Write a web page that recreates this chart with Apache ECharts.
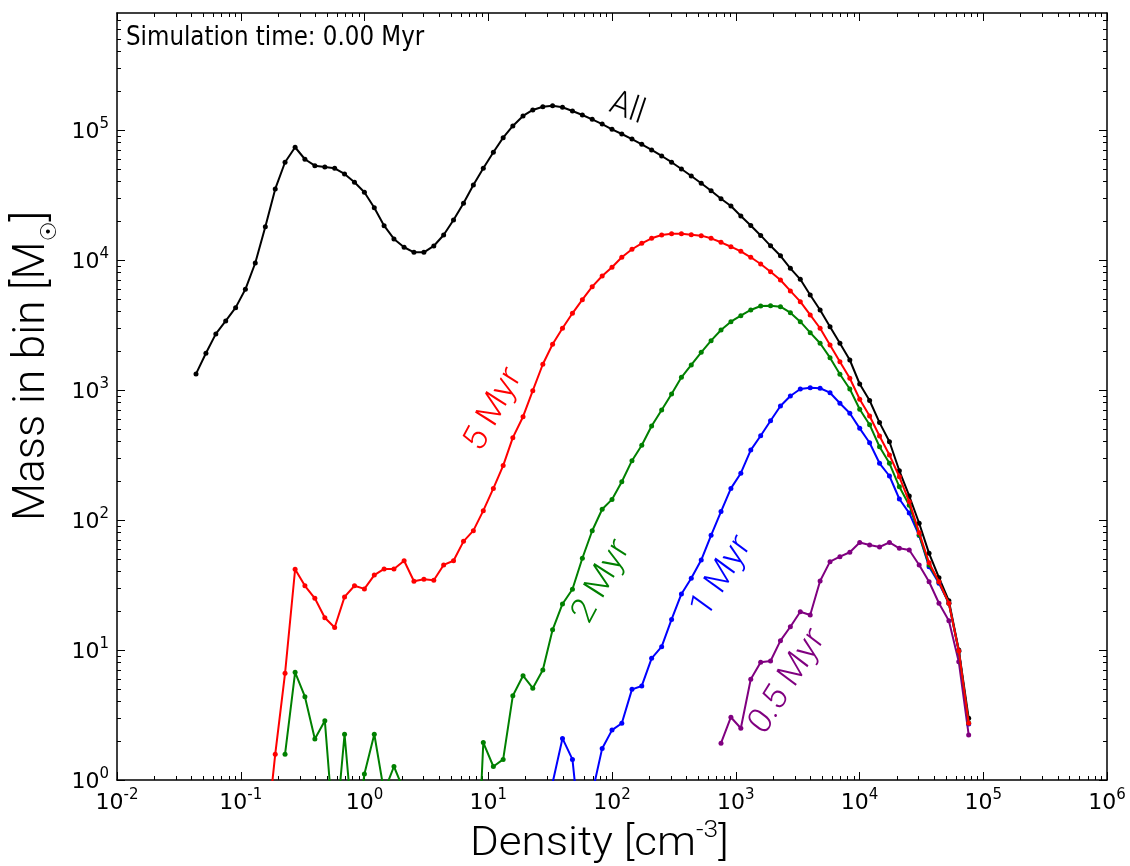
<!DOCTYPE html>
<html>
<head>
<meta charset="utf-8">
<script src="https://cdn.jsdelivr.net/npm/echarts@6/dist/echarts.min.js"></script>
<style>
  html, body { margin: 0; padding: 0; background: #fff; }
  #chart { width: 1130px; height: 866px; }
</style>
</head>
<body>
<div id="chart"></div>
<script>
// Density bin centres [cm^-3], shared by every curve
const density = [
  0.0435, 0.0523, 0.0629, 0.0756, 0.0909, 0.109, 0.131, 0.158, 0.190, 0.228,
  0.275, 0.330, 0.397, 0.478, 0.574, 0.690, 0.830, 0.998, 1.20, 1.44,
  1.73, 2.09, 2.51, 3.02, 3.63, 4.36, 5.24, 6.31, 7.58, 9.12,
  11.0, 13.2, 15.8, 19.1, 22.9, 27.6, 33.1, 39.8, 47.9, 57.6,
  69.2, 83.3, 100, 120, 145, 174, 209, 252, 303, 364,
  437, 526, 632, 760, 914, 1099, 1322, 1590, 1911, 2298,
  2763, 3323, 3996, 4804, 5777, 6946, 8351, 10040, 12070, 14520,
  17460, 20990, 25240, 30350, 36490, 43870, 52750, 63420, 76260
];

// Mass in each bin [Msun]; null = empty bin
const massAll = [
  1330, 1915, 2700, 3400, 4300, 5950, 9480, 18040, 35180, 56440,
  73640, 59550, 53140, 51910, 50700, 45880, 39630, 33180, 25260, 18360,
  14510, 12530, 11460, 11460, 12820, 15570, 20300, 27290, 37730, 50700,
  67400, 87300, 107400, 128200, 142600, 151100, 153800, 149500, 140000, 130400,
  120800, 111100, 101200, 93100, 85200, 77600, 70200, 63100, 56500, 50100,
  44300, 38900, 34100, 29600, 26000, 21800, 18400, 15450, 12850, 10770,
  8630, 7100, 5380, 4125, 3070, 2287, 1701, 1112, 830, 561,
  400, 239, 153, 94.4, 55.4, 36.0, 23.9, 10.0, 2.98
];

const mass5Myr = [
  null, null, null, null, null, null, null, 0.3, 1.58, 6.62,
  41.8, 31.2, 25.0, 17.7, 14.9, 25.6, 31.2, 29.5, 37.7, 42.0,
  42.0, 48.6, 33.8, 35.0, 34.4, 45.1, 48.6, 68.5, 82.8, 118,
  175, 262, 430, 623, 988, 1577, 2248, 2984, 3890, 4950,
  6237, 7530, 8790, 10490, 12090, 13440, 14680, 15570, 15930, 15930,
  15660, 15390, 14680, 13680, 12650, 11660, 10490, 9310, 8130, 7020,
  5780, 4780, 3776, 2984, 2219, 1651, 1230, 848, 631, 443,
  316, 215, 138, 79.9, 46.9, 33.5, 22.9, 9.83, 2.73
];

const mass2Myr = [
  null, null, null, null, null, null, null, null, null, 1.58,
  6.74, 4.37, 2.07, 2.86, 0.32, 2.25, 0.3, 1.11, 2.25, 0.81,
  1.27, 0.82, null, null, null, null, null, null, 0.04, 1.94,
  1.27, 1.44, 4.45, 6.34, 5.08, 7.02, 14.3, 22.6, 29.3, 50.8,
  82.7, 121, 144, 197, 286, 376, 529, 702, 931, 1252,
  1557, 1950, 2395, 2894, 3353, 3730, 4125, 4427, 4455, 4373,
  3935, 3353, 2760, 2287, 1772, 1321, 1018, 711, 541, 366,
  273, 180, 130, 76.7, 45.0, 33.4, 22.9, 9.8, 2.75
];

const mass1Myr = [
  null, null, null, null, null, null, null, null, null, null,
  null, null, null, null, null, null, null, null, null, null,
  null, null, null, null, null, null, null, null, null, null,
  null, null, null, null, null, null, 0.95, 2.09, 1.44, 0.27,
  0.79, 1.75, 2.42, 2.73, 4.98, 5.29, 8.63, 10.6, 17.2, 27.0,
  35.6, 49.2, 76.3, 116, 175, 229, 345, 445, 580, 753,
  899, 1018, 1042, 1031, 953, 790, 662, 507, 393, 273,
  218, 145, 113, 76.0, 43.7, 32.6, 22.9, 9.8, 2.7
];

const mass05Myr = [
  null, null, null, null, null, null, null, null, null, null,
  null, null, null, null, null, null, null, null, null, null,
  null, null, null, null, null, null, null, null, null, null,
  null, null, null, null, null, null, null, null, null, null,
  null, null, null, null, null, null, null, null, null, null,
  null, null, null, 1.92, 3.04, 2.50, 5.95, 8.04, 8.23, 11.8,
  15.1, 19.7, 18.6, 33.9, 47.8, 52.2, 56.5, 67.2, 64.2, 62.0,
  67.2, 60.6, 58.8, 45.1, 33.5, 22.9, 16.8, 8.13, 2.22
];

// Decade exponents that get a labelled tick
const xTickExponents = [-2, -1, 0, 1, 2, 3, 4, 5, 6];
const yTickExponents = [0, 1, 2, 3, 4, 5];

const X_MIN = 1e-2, X_MAX = 1e6;
const Y_MIN = 1, Y_MAX = 7.94e5;

const xMajor = xTickExponents.map(e => Math.pow(10, e));
const yMajor = yTickExponents.map(e => Math.pow(10, e));
function minorTicks(lo, hi) {
  const out = [];
  for (let e = Math.floor(Math.log10(lo)); e <= Math.ceil(Math.log10(hi)); e++) {
    for (let k = 2; k <= 9; k++) {
      const v = k * Math.pow(10, e);
      if (v > lo && v < hi) out.push(v);
    }
  }
  return out;
}
const xMinor = minorTicks(X_MIN, X_MAX);
const yMinor = minorTicks(Y_MIN, Y_MAX);

const tickFont = 'DejaVu Sans';
const labelRich = {
  b: { fontFamily: tickFont, fontSize: 22, color: '#000', lineHeight: 26, verticalAlign: 'bottom' },
  s: { fontFamily: tickFont, fontSize: 15, color: '#000', lineHeight: 16, verticalAlign: 'top' }
};
function powLabel(v) {
  const e = Math.round(Math.log10(v));
  return '{b|10}{s|' + e + '}';
}

const frame = { show: true, onZero: false, lineStyle: { color: '#000', width: 1.5 } };

function axisSet(isX, min, max, major, minor) {
  const base = { type: 'log', logBase: 10, min: min, max: max, splitLine: { show: false }, minorTick: { show: false } };
  const sideA = isX ? 'bottom' : 'left';
  const sideB = isX ? 'top' : 'right';
  return [
    Object.assign({}, base, {
      position: sideA, axisLine: frame,
      axisTick: { show: true, inside: true, length: 8, lineStyle: { color: '#000', width: 1 }, customValues: major },
      axisLabel: { show: true, customValues: major, formatter: powLabel, rich: labelRich, margin: 8 }
    }),
    Object.assign({}, base, {
      position: sideB, axisLine: frame,
      axisTick: { show: true, inside: true, length: 8, lineStyle: { color: '#000', width: 1 }, customValues: major },
      axisLabel: { show: false }
    }),
    Object.assign({}, base, {
      position: sideA, axisLine: { show: false },
      axisTick: { show: true, inside: true, length: 4, lineStyle: { color: '#000', width: 1 }, customValues: minor },
      axisLabel: { show: false }
    }),
    Object.assign({}, base, {
      position: sideB, axisLine: { show: false },
      axisTick: { show: true, inside: true, length: 4, lineStyle: { color: '#000', width: 1 }, customValues: minor },
      axisLabel: { show: false }
    })
  ];
}

function pairs(mass) {
  return density.map((d, i) => [d, mass[i] == null ? null : mass[i]]);
}

function curve(name, mass, color, z) {
  return {
    name: name, type: 'line', data: pairs(mass),
    xAxisIndex: 0, yAxisIndex: 0,
    symbol: 'circle', symbolSize: 5, showSymbol: true, showAllSymbol: true,
    connectNulls: false, clip: true, z: z,
    lineStyle: { color: color, width: 2 },
    itemStyle: { color: color, borderWidth: 0 },
    emphasis: { disabled: true }
  };
}

const titleFont = 'Roboto';

// Rotated annotation, slightly stretched vertically; inner angle chosen so the
// on-screen slope equals angleDeg after the stretch.
function curveLabel(text, color, x, y, angleDeg, size, stretch) {
  const a = angleDeg * Math.PI / 180;
  const inner = Math.atan2(Math.sin(a) / stretch, Math.cos(a));
  return {
    type: 'group', x: x, y: y, scaleY: stretch, z: 20,
    children: [{
      type: 'text', x: 0, y: 0, rotation: inner, z: 20,
      style: { text: text, fontFamily: titleFont, fontWeight: 300, fontSize: size, fill: color, align: 'center', verticalAlign: 'middle' }
    }]
  };
}

const chart = echarts.init(document.getElementById('chart'), null, { renderer: 'canvas' });
chart.setOption({
  animation: false,
  backgroundColor: '#fff',
  grid: { left: 117, right: 23, top: 13, bottom: 86, containLabel: false, outerBoundsMode: 'none' },
  xAxis: axisSet(true, X_MIN, X_MAX, xMajor, xMinor),
  yAxis: axisSet(false, Y_MIN, Y_MAX, yMajor, yMinor),
  series: [
    curve('All', massAll, '#000000', 2),
    curve('0.5 Myr', mass05Myr, '#800080', 3),
    curve('1 Myr', mass1Myr, '#0000ff', 4),
    curve('2 Myr', mass2Myr, '#008000', 5),
    curve('5 Myr', mass5Myr, '#ff0000', 6)
  ],
  graphic: [
    { type: 'text', x: 126, y: 38, scaleY: 1.15, z: 20,
      style: { text: 'Simulation time: 0.00 Myr', fontFamily: 'DejaVu Sans', fontSize: 23, fill: '#000', align: 'left', verticalAlign: 'middle' } },
    { type: 'text', x: 470, y: 842, scaleX: 1.1, z: 20,
      style: { text: '{m|Density [cm}{s|-3}{m|]}', align: 'left', verticalAlign: 'middle',
        rich: { m: { fontFamily: titleFont, fontWeight: 300, fontSize: 40, fill: '#000', lineHeight: 46, verticalAlign: 'bottom' },
                s: { fontFamily: titleFont, fontWeight: 300, fontSize: 24, fill: '#000', lineHeight: 28, verticalAlign: 'top' } } } },
    { type: 'text', x: 36, y: 366, rotation: Math.PI / 2, z: 20,
      style: { text: '{m|Mass in bin [M}{s|\u2609}{m|]}', align: 'center', verticalAlign: 'middle',
        rich: { m: { fontFamily: titleFont, fontWeight: 300, fontSize: 44, fill: '#000', lineHeight: 50, verticalAlign: 'top' },
                s: { fontFamily: 'DejaVu Sans', fontSize: 22, fill: '#000', lineHeight: 40, verticalAlign: 'bottom' } } } },
    curveLabel('All', '#000000', 627, 109, -22, 32, 1.1),
    curveLabel('5 Myr', '#ff0000', 494, 410, 62, 33, 1.1),
    curveLabel('2 Myr', '#008000', 602, 582, 62, 33, 1.1),
    curveLabel('1 Myr', '#0000ff', 722, 577, 59, 33, 1.1),
    curveLabel('0.5 Myr', '#800080', 788, 682, 58, 33, 1.1)
  ]
});
</script>
</body>
</html>
